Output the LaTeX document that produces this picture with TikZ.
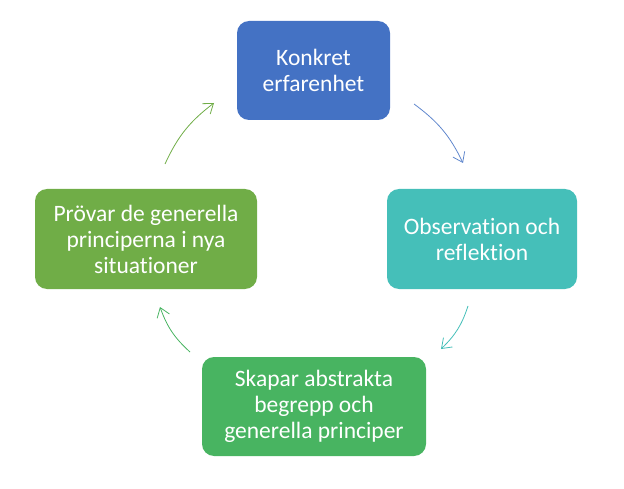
\documentclass[tikz,border=0pt]{standalone}
\usepackage{xcolor}
\usepackage{fontspec}
\setmainfont{Carlito}[Ligatures=NoCommon]
\usepackage{tikz}
\usetikzlibrary{arrows.meta, positioning}
\definecolor{cycleblue}{HTML}{4472C4}
\definecolor{cycleteal}{HTML}{45BFB9}
\definecolor{cyclegreen}{HTML}{48B461}
\definecolor{cycleolive}{HTML}{70AD47}
\tikzstyle{block} = [rectangle, text=white, align=center, rounded corners=12pt,
    inner sep=0pt, font=\fontsize{23.5}{26}\selectfont]
\tikzstyle{line} = [draw, line width=0.8pt, bend left=14, -{Straight Barb[length=9pt, width=13pt]}]

\begin{document}
\begin{tikzpicture}[x=1pt, y=-1pt]
      \useasboundingbox (0,0) rectangle (624,489);
      % Cycle
      \node [block, fill=cycleblue, minimum width=153pt, minimum height=99pt] (konkret) at (313.5,70.5) {Konkret\\erfarenhet};
      \node [block, fill=cycleteal, minimum width=190pt, minimum height=100pt] (observation) at (482,239) {Observation och\\reflektion};
      \node [block, fill=cyclegreen, minimum width=224pt, minimum height=99pt] (begrepp) at (314,406.5) {Skapar abstrakta\\begrepp och\\generella principer};
      \node [block, fill=cycleolive, minimum width=222pt, minimum height=100pt] (provar) at (146,239) {Prövar de generella\\principerna i nya\\situationer};
      % Arrow ends
      \coordinate (a-start) at (414,104);
      \coordinate (a-end) at (463,163);
      \coordinate (b-start) at (468,306);
      \coordinate (b-end) at (441,349);
      \coordinate (c-start) at (190,352);
      \coordinate (c-end) at (160,307);
      \coordinate (d-start) at (165,164);
      \coordinate (d-end) at (214,103);
      % Draw edges
      \path [line, cycleblue!85] (a-start) to (a-end);
      \path [line, cycleteal] (b-start) to (b-end);
      \path [line, cyclegreen] (c-start) to (c-end);
      \path [line, cycleolive] (d-start) to (d-end);
    \end{tikzpicture}
\end{document}
